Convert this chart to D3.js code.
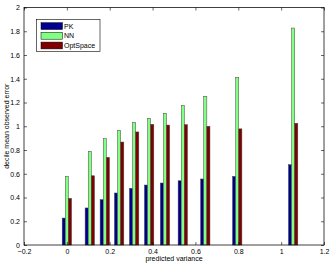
<!DOCTYPE html>
<html>
<head>
<meta charset="utf-8">
<script src="https://cdn.jsdelivr.net/npm/d3@7"></script>
<style>
  body { margin: 0; background: #fff; }
  svg { display: block; font-family: "Liberation Sans", Arial, sans-serif; }
  .tick-label { font-size: 7px; fill: #000; }
  .axis-title { font-size: 7px; fill: #000; }
</style>
</head>
<body>
<div id="chart"></div>
<script>

/*
 * Chart data.
 */

// Bin positions along the x axis (predicted variance).
var positions = [0.0, 0.107, 0.177, 0.244, 0.314, 0.384, 0.458, 0.541, 0.646, 0.795, 1.056];

// Series names.
var seriesNames = ['PK', 'NN', 'OptSpace'];

// Series values (decile mean observed error).
var pkValues = [0.227, 0.312, 0.382, 0.438, 0.477, 0.505, 0.522, 0.541, 0.556, 0.578, 0.676];
var nnValues = [0.578, 0.789, 0.895, 0.966, 1.033, 1.067, 1.109, 1.176, 1.252, 1.412, 1.827];
var optValues = [0.393, 0.583, 0.738, 0.867, 0.952, 1.016, 1.010, 1.013, 1.000, 0.978, 1.025];

// Tick labels.
var xTicks = [-0.2, 0, 0.2, 0.4, 0.6, 0.8, 1, 1.2];
var yTicks = [0, 0.2, 0.4, 0.6, 0.8, 1, 1.2, 1.4, 1.6, 1.8, 2];

/*
 * Layout.
 */

var width = 332;
var height = 264;
var plot = { left: 24, right: 324, top: 7.5, bottom: 245 };
var colors = ['#000090', '#80ff80', '#800000'];
var barWidth = 0.0145;
var tickLen = 3;

var x = d3.scaleLinear().domain([-0.2, 1.2]).range([plot.left, plot.right]);
var y = d3.scaleLinear().domain([0, 2]).range([plot.bottom, plot.top]);

var svg = d3.select('#chart').append('svg')
  .attr('width', width)
  .attr('height', height);

/*
 * Bars.
 */

var series = [pkValues, nnValues, optValues];
var bw = x(barWidth) - x(0);

series.forEach(function(values, i) {
  svg.append('g')
    .selectAll('rect')
    .data(values)
    .enter().append('rect')
    .attr('x', function(d, j) { return x(positions[j] + (i - 1) * barWidth) - bw / 2; })
    .attr('y', function(d) { return y(d); })
    .attr('width', bw)
    .attr('height', function(d) { return y(0) - y(d); })
    .attr('fill', colors[i])
    .attr('stroke', '#444')
    .attr('stroke-width', 0.5);
});

/*
 * Axes box with inward ticks on all sides.
 */

var axisLeft = d3.axisLeft(y).tickValues(yTicks).tickSizeInner(-tickLen).tickSizeOuter(0)
  .tickFormat(d3.format('~g'));
var axisRight = d3.axisRight(y).tickValues(yTicks).tickSizeInner(-tickLen).tickSizeOuter(0)
  .tickFormat('');
var axisBottom = d3.axisBottom(x).tickValues(xTicks).tickSizeInner(-tickLen).tickSizeOuter(0)
  .tickFormat(d3.format('~g'));
var axisTop = d3.axisTop(x).tickValues(xTicks).tickSizeInner(-tickLen).tickSizeOuter(0)
  .tickFormat('');

function styleAxis(g) {
  g.select('.domain').remove();
  g.selectAll('line').attr('stroke', '#000').attr('stroke-width', 0.6);
  g.selectAll('text').attr('class', 'tick-label').attr('font-family', null).attr('font-size', null);
}

svg.append('g').attr('transform', 'translate(' + plot.left + ',0)').call(axisLeft).call(styleAxis)
  .selectAll('text').attr('x', -4).attr('dy', '0.35em');
svg.append('g').attr('transform', 'translate(' + plot.right + ',0)').call(axisRight).call(styleAxis);
svg.append('g').attr('transform', 'translate(0,' + plot.bottom + ')').call(axisBottom).call(styleAxis)
  .selectAll('text').attr('y', 4).attr('dy', '0.71em');
svg.append('g').attr('transform', 'translate(0,' + plot.top + ')').call(axisTop).call(styleAxis);

// Frame.
svg.append('rect')
  .attr('x', plot.left)
  .attr('y', plot.top)
  .attr('width', plot.right - plot.left)
  .attr('height', plot.bottom - plot.top)
  .attr('fill', 'none')
  .attr('stroke', '#000')
  .attr('stroke-width', 0.75);

/*
 * Axis titles.
 */

svg.append('text')
  .attr('class', 'axis-title')
  .attr('x', (plot.left + plot.right) / 2)
  .attr('y', 260.5)
  .attr('text-anchor', 'middle')
  .text('predicted variance');

svg.append('text')
  .attr('class', 'axis-title')
  .attr('transform', 'translate(9,' + (plot.top + plot.bottom) / 2 + ') rotate(-90)')
  .attr('text-anchor', 'middle')
  .text('decile mean observed error');

/*
 * Legend.
 */

var legend = svg.append('g').attr('transform', 'translate(36.5,19.5)');

legend.append('rect')
  .attr('width', 63.5)
  .attr('height', 32)
  .attr('fill', '#fff')
  .attr('stroke', '#000')
  .attr('stroke-width', 0.6);

var rows = legend.selectAll('.row')
  .data(seriesNames)
  .enter().append('g')
  .attr('class', 'row')
  .attr('transform', function(d, i) { return 'translate(4.5,' + (3.2 + i * 9.7) + ')'; });

rows.append('rect')
  .attr('width', 21.5)
  .attr('height', 6.8)
  .attr('fill', function(d, i) { return colors[i]; })
  .attr('stroke', '#000')
  .attr('stroke-width', 0.5);

rows.append('text')
  .attr('class', 'tick-label')
  .attr('x', 23)
  .attr('y', 3.4)
  .attr('dy', '0.35em')
  .text(function(d) { return d; });

</script>
</body>
</html>
